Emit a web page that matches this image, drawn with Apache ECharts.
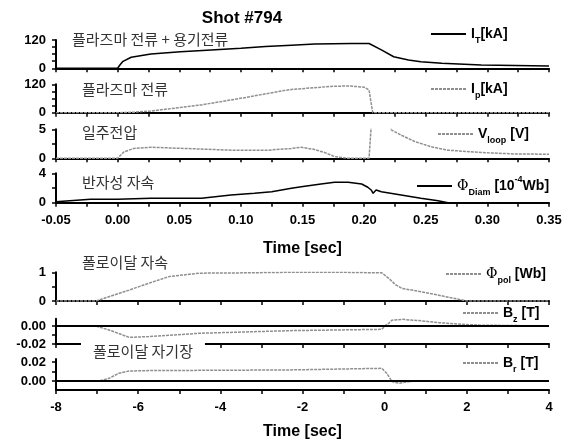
<!DOCTYPE html>
<html>
<head>
<meta charset="utf-8">
<title>Shot #794</title>
<script src="https://cdn.jsdelivr.net/npm/echarts@6/dist/echarts.min.js"></script>
<style>
  html, body { margin: 0; padding: 0; background: #fff; }
  #main { width: 572px; height: 441px; }
</style>
</head>
<body>
<div id="main"></div>
<script>
// ---- 위쪽 그룹 (시간 -0.05 ~ 0.35 s) ----
var itT = [-0.05, 0, 0.002, 0.004, 0.011, 0.027, 0.051, 0.076, 0.1, 0.12, 0.141, 0.16, 0.19, 0.204, 0.214, 0.224, 0.236, 0.246, 0.263, 0.295, 0.35];
var itV = [0, 0, 15, 28, 47, 61, 70, 78, 85, 92, 98, 103, 105, 105, 78, 49, 35, 28, 21, 14, 10];

var ipT = [-0.05, 0, 0.013, 0.027, 0.068, 0.108, 0.133, 0.141, 0.173, 0.187, 0.2, 0.204, 0.2057, 0.207, 0.35];
var ipV = [0, 0, 2, 7, 33, 68, 92, 98, 111, 113, 108, 96, 40, 0, 0];

var vlT = [-0.05, 0, 0.005, 0.013, 0.027, 0.054, 0.092, 0.122, 0.141, 0.149, 0.159, 0.168, 0.176, 0.187, 0.204, 0.2053, 0.2057, 0.2062, 0.221, 0.222, 0.23, 0.241, 0.254, 0.268, 0.295, 0.322, 0.35];
var vlV = [0, 0, 1.1, 1.7, 1.9, 1.7, 1.4, 1.4, 1.7, 1.9, 1.55, 1.0, 0.3, 0, 0, 0, 5.5, 9, 9, 4.9, 4.0, 2.9, 2.0, 1.4, 1.0, 0.75, 0.7];

var pdT = [-0.05, -0.022, 0, 0.027, 0.068, 0.092, 0.111, 0.125, 0.133, 0.141, 0.149, 0.165, 0.176, 0.187, 0.198, 0.203, 0.2057, 0.2073, 0.2097, 0.214, 0.23, 0.246, 0.26, 0.268, 0.35];
var pdV = [0.14, 0.46, 0.46, 0.6, 0.6, 1.05, 1.28, 1.5, 1.73, 1.96, 2.18, 2.54, 2.77, 2.77, 2.54, 2.1, 1.73, 1.28, 1.73, 1.5, 1.05, 0.6, 0.27, 0, 0];

// ---- 아래쪽 그룹 (시간 -8 ~ 4 s) ----
var ppT = [-8, -7.03, -6.22, -5.74, -5.25, -4.52, -3.5, -2.33, -1, -0.07, 0.1, 0.27, 0.42, 0.7, 1.08, 1.49, 1.8, 2.0, 4];
var ppV = [0, 0, 0.38, 0.62, 0.85, 0.97, 0.98, 1.0, 1.0, 0.98, 0.79, 0.56, 0.44, 0.37, 0.27, 0.15, 0.06, 0, 0];

var bzT = [-8, -7.03, -6.71, -6.22, -5.74, -4.52, -2.33, -0.07, 0.03, 0.1, 0.18, 0.42, 0.83, 1.32, 1.88, 2.3, 4];
var bzV = [0, 0, -0.0044, -0.0126, -0.0118, -0.0081, -0.0052, -0.0037, 0.001, 0.003, 0.0065, 0.0074, 0.006, 0.0037, 0.0019, 0.001, 0];

var brT = [-8, -6.95, -6.71, -6.47, -6.22, -5.74, -2.33, -0.07, 0.05, 0.18, 0.35, 0.59, 0.83, 4];
var brV = [0, 0, 0.0028, 0.0081, 0.0105, 0.0109, 0.0116, 0.0133, 0.0081, -0.0007, -0.0024, -0.0007, 0.0003, 0.0003];

// 눈금 라벨
var topXLabels = [-0.05, 0, 0.05, 0.10, 0.15, 0.20, 0.25, 0.30, 0.35];
var botXLabels = [-8, -6, -4, -2, 0, 2, 4];
var yLabels = [[0, 120], [0, 120], [0, 5], [0, 4], [0, 1], [-0.02, 0], [0, 0.02]];
var yTicks = [[0, 30, 60, 90, 120], [0, 30, 60, 90, 120], [0, 2.5, 5], [0, 2, 4], [0, 0.5, 1], [-0.02, -0.01, 0], [-0.01, 0, 0.01, 0.02]];

function pairs(t, v) {
  var r = [];
  for (var i = 0; i < t.length; i++) r.push([t[i], v[i]]);
  return r;
}

var myChart = echarts.init(document.getElementById('main'));

// 패널 배치 (top, height, y 범위, 소수 자리)
var panels = [
  { top: 40,    h: 28.3, min: 0,      max: 120,   dec: 0 },
  { top: 84.3,  h: 28.4, min: 0,      max: 120,   dec: 0 },
  { top: 129.3, h: 29,   min: 0,      max: 5,     dec: 0 },
  { top: 173.3, h: 29.4, min: 0,      max: 4,     dec: 0 },
  { top: 272.3, h: 28.7, min: 0,      max: 1,     dec: 0 },
  { top: 318.8, h: 25.2, min: -0.02,  max: 0.008, dec: 2 },
  { top: 359.1, h: 30.9, min: -0.0095, max: 0.023, dec: 2 }
];

var lblFont = { color: '#000', fontSize: 13, fontWeight: 'bold', fontFamily: 'Liberation Sans, Arial, sans-serif' };

var grids = [], xAxes = [], yAxes = [];
panels.forEach(function (p, i) {
  grids.push({ left: 56, right: 23, top: p.top, height: p.h });
  var isTop = i < 4;
  var showLbl = (i === 3 || i === 6);
  xAxes.push({
    type: 'value', gridIndex: i,
    min: isTop ? -0.05 : -8, max: isTop ? 0.35 : 4, interval: isTop ? 0.025 : 1,
    splitLine: { show: false },
    axisLine: { onZero: false, lineStyle: { color: '#000', width: 2 } },
    axisTick: { length: 4, lineStyle: { color: '#000', width: 1.5 } },
    axisLabel: Object.assign({
      show: showLbl, margin: 11,
      customValues: isTop ? topXLabels : botXLabels,
      formatter: function (v) { return isTop ? v.toFixed(2) : String(v); }
    }, lblFont),
    name: showLbl ? 'Time [sec]' : '', nameLocation: 'middle', nameGap: isTop ? 38 : 34,
    nameTextStyle: { color: '#000', fontSize: 16, fontWeight: 'bold', fontFamily: 'Liberation Sans, Arial, sans-serif' }
  });
  yAxes.push({
    type: 'value', gridIndex: i, min: p.min, max: p.max,
    splitLine: { show: false },
    axisLine: { show: true, onZero: false, lineStyle: { color: '#000', width: 2 } },
    axisTick: { show: true, length: 4, customValues: yTicks[i], lineStyle: { color: '#000', width: 1.5 } },
    axisLabel: Object.assign({
      margin: 10, customValues: yLabels[i],
      formatter: (function (d) { return function (v) { return v.toFixed(d); }; })(p.dec)
    }, lblFont)
  });
});

var black = { color: '#000', width: 1.5 };
var gray = { color: '#8f8f8f', width: 1.5, type: [3, 1] };
var zeroLine = {
  silent: true, symbol: 'none', label: { show: false },
  lineStyle: { color: '#000', width: 2, type: 'solid' }, data: [{ yAxis: 0 }]
};

function line(name, idx, t, v, style, mark) {
  var s = {
    name: name, type: 'line', xAxisIndex: idx, yAxisIndex: idx,
    data: pairs(t, v), symbol: 'none', clip: true, lineStyle: style,
    itemStyle: { color: style.color }
  };
  if (mark) s.markLine = mark;
  return s;
}

var series = [
  line('IT', 0, itT, itV, black),
  line('Ip', 1, ipT, ipV, gray),
  line('Vloop', 2, vlT, vlV, gray),
  line('PhiDiam', 3, pdT, pdV, black),
  line('PhiPol', 4, ppT, ppV, gray),
  line('Bz', 5, bzT, bzV, gray, zeroLine),
  line('Br', 6, brT, brV, gray, zeroLine)
];

var legendText = {
  IT: '{n|I}{s|T}{n|[kA]}',
  Ip: '{n|I}{s|p}{n|[kA]}',
  Vloop: '{n|V}{s|loop}{n| [V]}',
  PhiDiam: '{p|Φ}{s|Diam}{n| [10}{u|-4}{n|Wb]}',
  PhiPol: '{p|Φ}{s|pol}{n| [Wb]}',
  Bz: '{n|B}{s|z}{n| [T]}',
  Br: '{n|B}{s|r}{n| [T]}'
};
var rich = {
  n: { fontSize: 14, fontWeight: 'bold', fontFamily: 'Liberation Sans, Arial, sans-serif', color: '#000', lineHeight: 22 },
  p: { fontSize: 14, fontFamily: 'DejaVu Serif, serif', color: '#000', lineHeight: 22 },
  s: { fontSize: 9, fontWeight: 'bold', fontFamily: 'Liberation Sans, Arial, sans-serif', color: '#000', lineHeight: 8, verticalAlign: 'bottom' },
  u: { fontSize: 9, fontWeight: 'bold', fontFamily: 'Liberation Sans, Arial, sans-serif', color: '#000', lineHeight: 8, verticalAlign: 'top' }
};
// 범례 위치 (선 시작 x, 선 y)
var legendPos = [['IT', 430, 34], ['Ip', 430, 89], ['Vloop', 437, 134], ['PhiDiam', 416, 182],
                 ['PhiPol', 445, 274], ['Bz', 462, 313], ['Br', 462, 363]];
var legends = legendPos.map(function (l) {
  return {
    data: [l[0]], left: l[1], top: l[2] - 7, itemWidth: 35, itemHeight: 14,
    selectedMode: false, padding: 0,
    itemStyle: { opacity: 0 },
    formatter: function (name) { return legendText[name]; },
    textStyle: { rich: rich }
  };
});

var korFont = { fill: '#333', fontSize: 15, fontFamily: 'Noto Sans CJK KR', textVerticalAlign: 'middle' };
function note(text, x, y, bg) {
  var st = Object.assign({ text: text, x: x, y: y }, korFont);
  if (bg) { st.backgroundColor = '#fff'; st.padding = [3, 12, 3, 12]; }
  return { type: 'text', z: 100, style: st };
}

var option = {
  animation: false,
  backgroundColor: '#fff',
  grid: grids,
  xAxis: xAxes,
  yAxis: yAxes,
  legend: legends,
  series: series,
  graphic: [
    { type: 'text', z: 100, style: { text: 'Shot #794', x: 242, y: 18, textAlign: 'center', textVerticalAlign: 'middle',
      fill: '#000', fontSize: 17, fontWeight: 'bold', fontFamily: 'Liberation Sans, Arial, sans-serif' } },
    note('플라즈마 전류 + 용기전류', 72, 39),
    note('플라즈마 전류', 82, 89),
    note('일주전압', 82, 132.5),
    note('반자성 자속', 82, 182.5),
    note('폴로이달 자속', 82, 262.5),
    note('폴로이달 자기장', 81, 351, true)
  ]
};
myChart.setOption(option);
</script>
</body>
</html>
